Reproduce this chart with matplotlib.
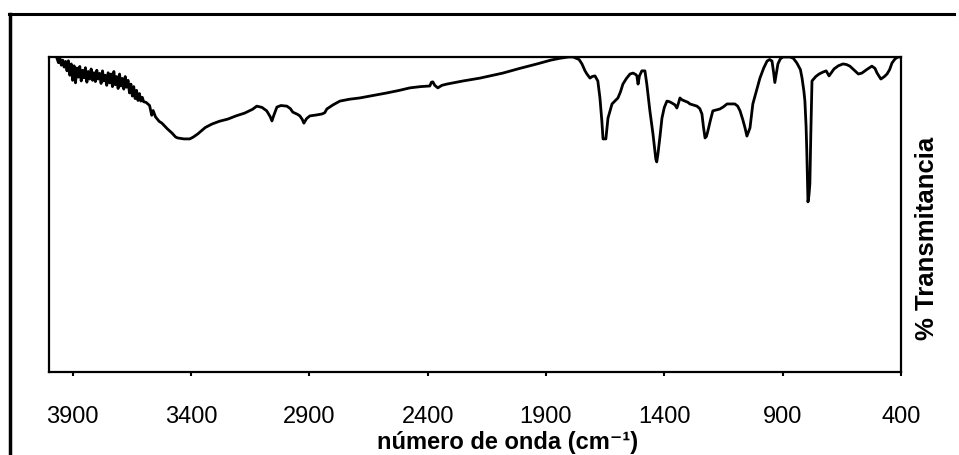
import numpy as np
import matplotlib.pyplot as plt
from matplotlib.lines import Line2D

plt.rcParams['font.family'] = ['Liberation Sans', 'DejaVu Sans']

# IR spectrum: wavenumber (cm-1) and % transmittance
wavenumber = [
    3966, 3960, 3954, 3948, 3942, 3936, 3930, 3924, 3918, 3912,
    3906, 3900, 3894, 3888, 3882, 3876, 3870, 3864, 3858, 3852,
    3846, 3840, 3834, 3828, 3822, 3816, 3810, 3804, 3798, 3792,
    3786, 3780, 3774, 3768, 3762, 3756, 3750, 3744, 3738, 3732,
    3726, 3720, 3714, 3708, 3702, 3696, 3690, 3684, 3678, 3672,
    3666, 3660, 3654, 3648, 3642, 3636, 3630, 3624, 3618, 3612,
    3606, 3600, 3590, 3575, 3566, 3560, 3550, 3535, 3523, 3500,
    3481, 3465, 3456, 3430, 3405, 3390, 3371, 3340, 3312, 3280,
    3244, 3210, 3173, 3140, 3122, 3100, 3080, 3065, 3058, 3050,
    3037, 3020, 2995, 2980, 2970, 2950, 2940, 2930, 2923, 2912,
    2898, 2870, 2847, 2835, 2826, 2800, 2771, 2730, 2687, 2630,
    2572, 2520, 2475, 2430, 2391, 2384, 2378, 2370, 2357, 2340,
    2319, 2250, 2179, 2082, 2010, 1938, 1880, 1841, 1805, 1785,
    1760, 1748, 1735, 1727, 1714, 1705, 1693, 1681, 1672, 1664,
    1659, 1647, 1638, 1621, 1596, 1585, 1575, 1560, 1545, 1532,
    1520, 1516, 1511, 1505, 1495, 1482, 1474, 1461, 1448, 1436,
    1432, 1427, 1418, 1410, 1400, 1389, 1378, 1368, 1355, 1347,
    1340, 1334, 1325, 1313, 1300, 1292, 1262, 1250, 1241, 1235,
    1228, 1222, 1216, 1205, 1195, 1165, 1150, 1135, 1102, 1090,
    1080, 1068, 1059, 1051, 1038, 1026, 1010, 996, 980, 966,
    955, 945, 938, 933, 926, 920, 910, 899, 869, 855,
    840, 825, 818, 810, 806, 801, 798, 793, 789, 785,
    781, 776, 760, 746, 730, 716, 704, 683, 665, 645,
    630, 616, 594, 580, 565, 545, 523, 510, 501, 485,
    470, 459, 448, 438, 425, 413, 400,
]
transmittance = [
    99.5, 98.2, 99.6, 97.4, 99.0, 96.8, 98.6, 95.6, 98.8, 94.2,
    97.8, 92.6, 97.2, 91.8, 96.5, 93.6, 97.0, 92.4, 95.8, 93.4,
    96.6, 92.0, 95.4, 93.0, 96.2, 92.6, 95.0, 92.2, 95.8, 93.0,
    94.8, 91.6, 95.6, 92.4, 94.2, 91.0, 95.0, 91.8, 94.6, 90.6,
    95.4, 91.2, 93.8, 90.0, 94.6, 90.8, 93.2, 89.8, 93.8, 90.4,
    92.6, 88.6, 91.4, 87.6, 90.6, 86.8, 89.4, 86.2, 88.4, 86.0,
    87.2, 85.8, 85.6, 84.6, 81.5, 83.0, 81.0, 79.6, 79.0, 77.2,
    75.9, 74.6, 74.3, 74.0, 74.0, 74.6, 75.6, 77.6, 78.7, 79.6,
    80.3, 81.3, 82.2, 83.4, 84.4, 84.0, 82.9, 81.0, 79.7, 81.5,
    84.1, 84.6, 84.4, 83.6, 82.5, 81.8, 81.3, 80.2, 79.0, 80.4,
    81.3, 81.6, 81.9, 82.3, 83.5, 84.8, 86.0, 86.6, 87.0, 87.8,
    88.6, 89.4, 90.2, 90.6, 90.8, 92.0, 92.1, 91.0, 90.2, 91.0,
    91.4, 92.4, 93.3, 94.9, 96.4, 97.8, 99.0, 99.6, 100.0, 100.0,
    99.2, 97.8, 95.6, 94.6, 93.3, 93.8, 94.0, 92.4, 87.0, 79.7,
    74.0, 74.0, 80.6, 85.1, 87.0, 89.0, 91.4, 93.2, 94.6, 94.9,
    94.4, 94.0, 91.4, 94.0, 95.6, 95.6, 91.4, 82.9, 75.6, 67.6,
    66.7, 69.2, 75.0, 80.6, 84.0, 86.0, 85.8, 85.4, 84.8, 83.8,
    85.4, 87.0, 86.4, 86.0, 85.6, 85.1, 84.4, 83.6, 81.9, 78.0,
    74.3, 74.8, 76.5, 80.0, 82.9, 83.5, 84.2, 85.1, 85.1, 84.4,
    82.9, 80.0, 77.5, 74.9, 77.5, 85.1, 89.5, 93.3, 96.5, 98.7,
    99.2, 98.7, 95.0, 91.9, 95.0, 97.8, 99.4, 100.0, 100.0, 99.6,
    98.1, 96.0, 93.3, 89.0, 86.0, 78.0, 70.2, 54.0, 56.0, 59.7,
    75.6, 92.4, 93.8, 94.6, 95.2, 95.6, 94.0, 96.2, 97.2, 97.8,
    97.6, 97.1, 95.6, 94.6, 94.9, 96.0, 97.1, 96.4, 94.9, 93.0,
    93.8, 94.6, 96.0, 98.1, 99.4, 100.0, 100.0,
]
xticks = [3900, 3400, 2900, 2400, 1900, 1400, 900, 400]

fig = plt.figure(figsize=(9.59, 4.56), dpi=100)
ax = fig.add_axes([0.0511, 0.182, 0.8884, 0.6908])

ax.plot(wavenumber, transmittance, color='black', lw=2.0)

ax.set_xlim(4000, 400)
ax.set_ylim(0, 100)
ax.set_xticks(xticks)
ax.set_xticklabels([str(t) for t in xticks], fontsize=17)
ax.set_yticks([])
ax.tick_params(axis='x', direction='out', length=3, width=1.5, pad=21)
for s in ax.spines.values():
    s.set_linewidth(1.6)

fig.text(0.529, 0.016, 'número de onda (cm⁻¹)', ha='center',
         va='baseline', fontsize=17, fontweight='bold')
fig.text(0.9666, 0.478, '% Transmitancia', ha='center', va='center',
         rotation=90, fontsize=18.5, fontweight='bold')

# outer box around the figure
fig.add_artist(Line2D([0.0095, 0.995], [0.967, 0.967], color='black', lw=2.2))
fig.add_artist(Line2D([0.0105, 0.0105], [0.0, 0.967], color='black', lw=2.5))

fig.savefig('out.png', dpi=100)
